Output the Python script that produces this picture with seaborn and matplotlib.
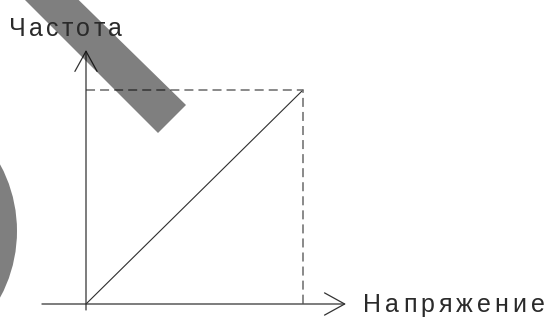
import matplotlib
matplotlib.use("Agg")
import matplotlib.pyplot as plt
import seaborn as sns
import pandas as pd
from matplotlib.patches import Polygon, Circle
from matplotlib.transforms import Affine2D

# ---- data ----
voltage = [0.0, 1.0]
frequency = [0.0, 1.0]
x_label = "Напряжение"
y_label = "Частота"

sns.set_theme(style="white")
plt.rcParams['font.family'] = ['Liberation Sans', 'DejaVu Sans']

W, H = 549, 323
fig = plt.figure(figsize=(W / 100, H / 100), dpi=100)
ax = fig.add_axes([0, 0, 1, 1])
ax.set_axis_off()

# map data -> pixels (origin at px (86,304), (1,1) at px (303,90))
x0px, x1px = 86, 303
y0px, y1px = 304, 90
sx = x1px - x0px
sy = y0px - y1px
ax.set_xlim(-x0px / sx, (W - x0px) / sx)
ax.set_ylim(-(H - y0px) / sy, y0px / sy)

# diagonal characteristic
df = pd.DataFrame({x_label: voltage, y_label: frequency})
sns.lineplot(data=df, x=x_label, y=y_label, ax=ax, color="#2e2e2e", lw=0.8,
             estimator=None, sort=False)

# dashed guides
guide = pd.DataFrame({"x": [voltage[0], voltage[-1], voltage[-1]],
                      "y": [frequency[-1], frequency[-1], frequency[0]]})
sns.lineplot(data=guide, x="x", y="y", ax=ax, color="#6a6a6a", lw=1.1,
             linestyle=(0, (5.9, 3.3)), estimator=None, sort=False)
ax.set_xlabel("")
ax.set_ylabel("")
ax.set_axis_off()

# axes with open arrowheads
arrow = dict(arrowstyle="->,head_length=1.45,head_width=0.8", lw=0.9,
             color="#333333", shrinkA=0, shrinkB=0, mutation_scale=10)
ax.annotate("", xy=(1.198, 0), xytext=(-0.203, 0), arrowprops=arrow)
ax.annotate("", xy=(0, 1.187), xytext=(0, -0.028), arrowprops=arrow)

# pixel transform for decorations
pix = Affine2D().scale(1 / 100, -1 / 100).translate(0, H / 100) + fig.dpi_scale_trans
band = Polygon([(-5, -30), (48, -30), (186, 105), (158, 133)], closed=True,
               facecolor="black", alpha=0.5, edgecolor="none", transform=pix, zorder=5)
fig.add_artist(band)
circ = Circle((-123, 231), 140, facecolor="black", alpha=0.5, edgecolor="none",
              transform=pix, zorder=5)
fig.add_artist(circ)

# letter-spaced labels
fig.canvas.draw()
renderer = fig.canvas.get_renderer()


def spaced_text(x_px, y_px, s, gap_px, size):
    x = x_px
    for ch in s:
        t = fig.text(x / W, 1 - y_px / H, ch, fontsize=size, color="#2a2a2a",
                     ha="left", va="baseline",
                     family=['Liberation Sans', 'DejaVu Sans'], zorder=6)
        bb = t.get_window_extent(renderer=renderer)
        x += bb.width + gap_px


spaced_text(9, 36, y_label, 3.2, 18)
spaced_text(363, 312, x_label, 4.0, 18)

fig.savefig("out.png", dpi=100)
